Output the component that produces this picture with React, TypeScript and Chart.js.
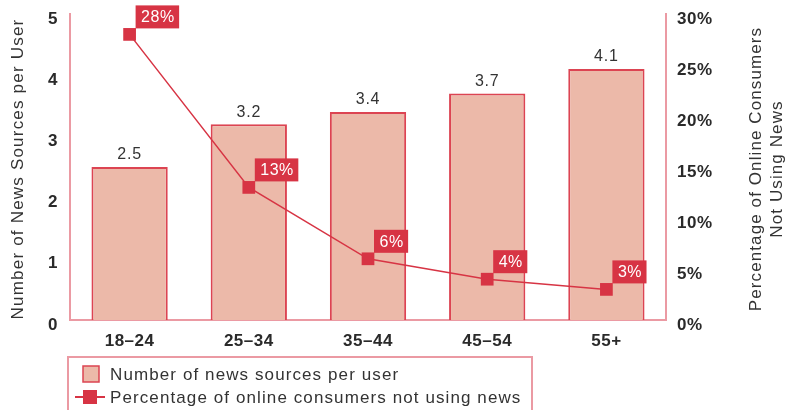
import React, { useEffect, useRef } from "react";
import { Chart, registerables } from "chart.js";

Chart.register(...registerables);

const categories = ["18–24", "25–34", "35–44", "45–54", "55+"];
const sourcesPerUser = [2.5, 3.2, 3.4, 3.7, 4.1];
const pctNotUsing = [28, 13, 6, 4, 3];
const leftTicks = [0, 1, 2, 3, 4, 5];
const rightTicks = [0, 5, 10, 15, 20, 25, 30];
const leftTitle = "Number of News Sources per User";
const rightTitle = ["Percentage of Online Consumers", "Not Using News"];
const legendLabels = [
  "Number of news sources per user",
  "Percentage of online consumers not using news",
];

const BAR_FILL = "#ecb9a9";
const BAR_BORDER = "#dc4452";
const LINE = "#d73444";
const AXIS = "#eb9aa3";
const TEXT = "#2a2a2a";
const FONT = "'Liberation Sans', Arial, sans-serif";

function setSpacing(ctx: any, px: number) {
  if ("letterSpacing" in ctx) ctx.letterSpacing = `${px}px`;
}

const decor = {
  id: "decor",
  afterDraw(chart: any) {
    const ctx = chart.ctx as any;
    const area = chart.chartArea;
    const yL = chart.scales.y;
    const yR = chart.scales.y1;
    const xS = chart.scales.x;
    ctx.save();

    // y tick labels
    ctx.fillStyle = TEXT;
    ctx.font = `bold 17px ${FONT}`;
    setSpacing(ctx, 0.5);
    ctx.textBaseline = "middle";
    ctx.textAlign = "right";
    leftTicks.forEach((v) => {
      ctx.fillText(String(v), area.left - 12, yL.getPixelForValue(v) + 5);
    });
    ctx.textAlign = "left";
    rightTicks.forEach((v) => {
      ctx.fillText(`${v}%`, area.right + 11, yR.getPixelForValue(v) + 5);
    });

    // x tick labels
    ctx.textAlign = "center";
    categories.forEach((c, i) => {
      ctx.fillText(c, xS.getPixelForValue(i), area.bottom + 21);
    });

    // axis titles
    ctx.font = `17px ${FONT}`;
    setSpacing(ctx, 1.2);
    ctx.fillStyle = "#333";
    ctx.textAlign = "center";
    const midY = (area.top + area.bottom) / 2 + 2;
    ctx.save();
    ctx.translate(18, midY);
    ctx.rotate(-Math.PI / 2);
    ctx.fillText(leftTitle, 0, 0);
    ctx.restore();
    ctx.save();
    ctx.translate(756, midY);
    ctx.rotate(-Math.PI / 2);
    setSpacing(ctx, 1.1);
    ctx.fillText(rightTitle[0], 0, 0);
    ctx.fillText(rightTitle[1], 0, 21);
    ctx.restore();

    // bar value labels
    const barMeta = chart.getDatasetMeta(1);
    ctx.font = `16px ${FONT}`;
    setSpacing(ctx, 0.8);
    ctx.fillStyle = "#333";
    ctx.textAlign = "center";
    ctx.textBaseline = "bottom";
    barMeta.data.forEach((el: any, i: number) => {
      ctx.fillText(sourcesPerUser[i].toFixed(1), el.x, el.y - 4);
    });

    // line value label boxes
    const lineMeta = chart.getDatasetMeta(0);
    ctx.font = `16px ${FONT}`;
    setSpacing(ctx, 0.5);
    lineMeta.data.forEach((el: any, i: number) => {
      const t = `${pctNotUsing[i]}%`;
      const w = ctx.measureText(t).width + 10;
      const h = 23;
      const x0 = el.x + 6;
      const y0 = el.y - 6 - h;
      ctx.fillStyle = LINE;
      ctx.fillRect(x0, y0, w, h);
      ctx.fillStyle = "#ffffff";
      ctx.textBaseline = "middle";
      ctx.fillText(t, x0 + w / 2 + 0.5, y0 + h / 2 + 1);
    });

    // legend
    const lx = 68, ly = 357, lw = 464, lh = 60;
    setSpacing(ctx, 0);
    ctx.strokeStyle = AXIS;
    ctx.lineWidth = 2;
    ctx.strokeRect(lx, ly, lw, lh);
    // swatch 1
    ctx.fillStyle = BAR_FILL;
    ctx.fillRect(83, 366, 16, 16);
    ctx.strokeStyle = BAR_BORDER;
    ctx.lineWidth = 1.5;
    ctx.strokeRect(83, 366, 16, 16);
    // swatch 2
    ctx.strokeStyle = LINE;
    ctx.lineWidth = 2;
    ctx.beginPath();
    ctx.moveTo(75, 397);
    ctx.lineTo(105, 397);
    ctx.stroke();
    ctx.fillStyle = LINE;
    ctx.fillRect(83, 390, 14, 14);
    ctx.fillStyle = "#333";
    ctx.font = `17px ${FONT}`;
    setSpacing(ctx, 1.1);
    ctx.textAlign = "left";
    ctx.textBaseline = "middle";
    ctx.fillText(legendLabels[0], 110, 375);
    ctx.fillText(legendLabels[1], 110, 398);

    ctx.restore();
  },
};

export default function App() {
  const ref = useRef<HTMLCanvasElement | null>(null);
  useEffect(() => {
    if (!ref.current) return;
    const chart = new Chart(ref.current, {
      type: "bar",
      data: {
        labels: categories,
        datasets: [
          {
            type: "line",
            label: legendLabels[1],
            data: pctNotUsing,
            yAxisID: "y1",
            borderColor: LINE,
            backgroundColor: LINE,
            borderWidth: 1.5,
            pointStyle: "rect",
            pointRadius: 9,
            pointBorderWidth: 0,
            tension: 0,
            order: 0,
          } as any,
          {
            type: "bar",
            label: legendLabels[0],
            data: sourcesPerUser,
            yAxisID: "y",
            backgroundColor: BAR_FILL,
            borderColor: BAR_BORDER,
            borderWidth: 2,
            barPercentage: 0.64,
            categoryPercentage: 1,
            order: 1,
          },
        ],
      },
      options: {
        animation: false,
        responsive: false,
        maintainAspectRatio: false,
        layout: { padding: { top: 14, left: 0, right: 0, bottom: 0 } },
        plugins: { legend: { display: false }, tooltip: { enabled: false } },
        scales: {
          x: {
            grid: { display: false, drawTicks: false },
            border: { color: AXIS, width: 2 },
            ticks: { display: false },
            afterFit: (s: any) => {
              s.height = 90;
            },
          },
          y: {
            position: "left",
            min: 0,
            max: 5,
            grid: { display: false, drawTicks: false },
            border: { color: AXIS, width: 2 },
            ticks: { display: false },
            afterFit: (s: any) => {
              s.width = 70;
            },
          },
          y1: {
            position: "right",
            min: 0,
            max: 30,
            grid: { display: false, drawTicks: false },
            border: { color: AXIS, width: 2 },
            ticks: { display: false },
            afterFit: (s: any) => {
              s.width = 123;
            },
          },
        },
      } as any,
      plugins: [decor],
    });
    return () => chart.destroy();
  }, []);
  return (
    <div style={{ position: "fixed", left: 0, top: 0, width: 789, height: 410, background: "#fff" }}>
      <canvas ref={ref} width={789} height={410} style={{ width: 789, height: 410 }} />
    </div>
  );
}
